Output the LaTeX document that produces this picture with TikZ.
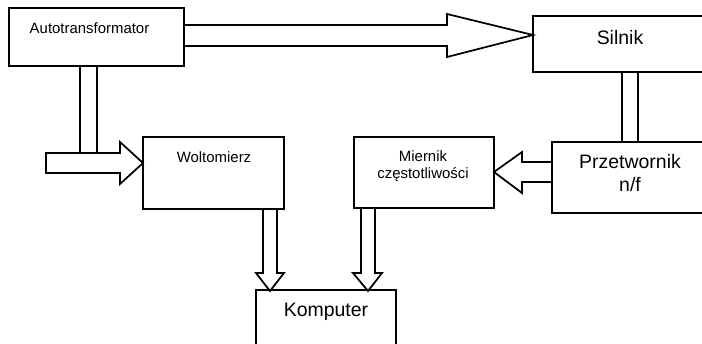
\documentclass[tikz,border=0pt]{standalone}
\usepackage{fontspec}
\setmainfont{Liberation Sans}
\begin{document}
\begin{tikzpicture}[x=0.75pt,y=-0.75pt,
  box/.style={draw=black,line width=1.3pt,fill=white},
  conn/.style={draw=black,line width=1.3pt,line join=miter},
  big/.style={font=\fontsize{14.6}{17}\selectfont,align=center,inner sep=0pt},
  small/.style={font=\fontsize{11.2}{12.5}\selectfont,align=center,inner sep=0pt}]
\useasboundingbox (0,0) rectangle (702,343);
\clip (0,0) rectangle (702,343);
% boxes
\draw[box] (9,8) rectangle (184,66);
\draw[box] (533,16) rectangle (725,72);
\draw[box] (552,142) rectangle (725,213);
\draw[box] (354,137) rectangle (494,208);
\draw[box] (143,137) rectangle (284,209);
\draw[box] (256,290) rectangle (396,360);
% labels
\node[small] (tauto) at (89.5,28) {Autotransformator};
\node[big] (tsil) at (620,38) {Silnik};
\node[big] (tprz) at (630,173) {Przetwornik\\n/f};
\node[small] (tmie) at (423,166) {Miernik\\częstotliwości};
\node[small] (twol) at (214,157) {Woltomierz};
\node[big] (tkom) at (326,312) {Komputer};
% arrows
\draw[conn] (184,25) -- (447,25) -- (447,14) -- (533,35) -- (447,57) -- (447,46) -- (184,46);
\draw[conn] (622,72) -- (622,142);
\draw[conn] (638,72) -- (638,142);
\draw[conn] (552,162) -- (522,162) -- (522,152) -- (494,172) -- (522,193) -- (522,182) -- (552,182);
\draw[conn] (80,66) -- (80,153);
\draw[conn] (97,66) -- (97,153);
\draw[conn] (46,153) -- (120,153) -- (120,142) -- (143,163) -- (120,184) -- (120,173) -- (46,173) -- cycle;
\draw[conn] (263,209) -- (263,273) -- (256,273) -- (270,291) -- (284,273) -- (277,273) -- (277,209);
\draw[conn] (361,208) -- (361,273) -- (353,273) -- (368,291) -- (382,273) -- (375,273) -- (375,208);
\end{tikzpicture}
\end{document}
